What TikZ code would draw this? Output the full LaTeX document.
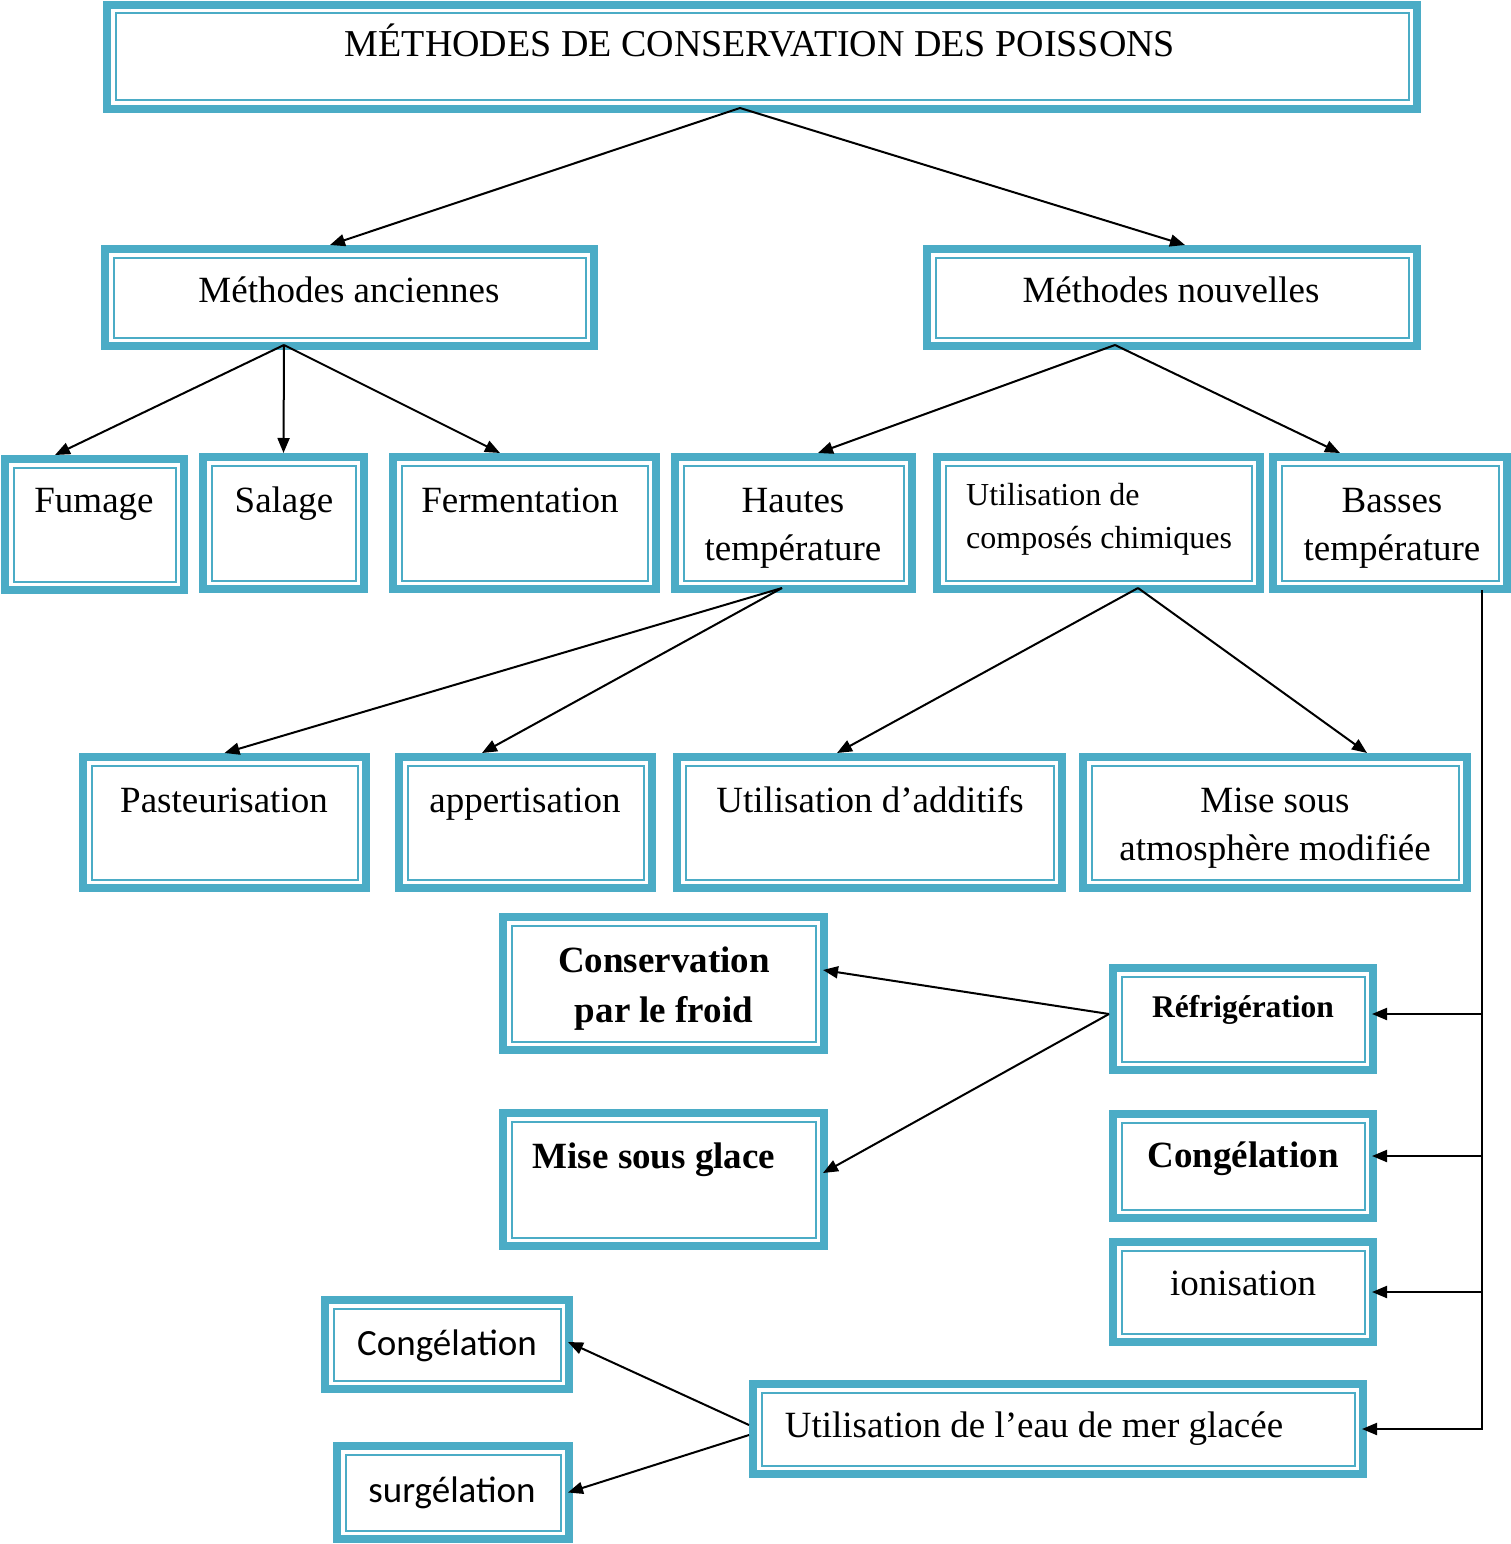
\documentclass[tikz,border=0pt]{standalone}
\usepackage{fontspec}
\setmainfont{Liberation Serif}
\newfontfamily\calib{Carlito}
\usetikzlibrary{arrows.meta}
\definecolor{boxblue}{HTML}{4BACC6}
\newcommand\mybox[5]{%
  \node[box, minimum width={#4-#2-8}, minimum height={#5-#3-8}] (#1) at ({(#2+#4)/2},{(#3+#5)/2}) {};
  \draw[innerline] ([shift={(12.5,12.5)}]#1.north west) rectangle ([shift={(-12.5,-12.5)}]#1.south east);}
\tikzset{
  box/.style={draw=boxblue, line width=8pt, inner sep=0pt, rectangle},
  innerline/.style={draw=boxblue, line width=2pt},
  txt/.style={anchor=base, inner sep=0pt, align=center, font=\fontsize{37}{48}\selectfont},
  arr/.style={line width=2pt, -{Triangle[length=15pt,width=12pt]}}
}
\begin{document}
\begin{tikzpicture}[x=1pt,y=-1pt]
\useasboundingbox (0,0) rectangle (1511,1544);
% boxes
\mybox{title}{103}{1}{1421}{113}
\mybox{anc}{101}{245}{598}{350}
\mybox{nouv}{923}{245}{1421}{350}
\mybox{fum}{1}{455}{188}{594}
\mybox{sal}{199}{453}{368}{593}
\mybox{fer}{389}{453}{660}{593}
\mybox{haut}{671}{453}{916}{593}
\mybox{chim}{933}{453}{1264}{593}
\mybox{bas}{1269}{453}{1511}{593}
\mybox{past}{79}{753}{370}{892}
\mybox{app}{395}{753}{656}{892}
\mybox{add}{673}{753}{1066}{892}
\mybox{atm}{1079}{753}{1471}{892}
\mybox{cpf}{499}{913}{828}{1054}
\mybox{refr}{1109}{964}{1377}{1074}
\mybox{msg}{499}{1109}{828}{1250}
\mybox{cong}{1109}{1110}{1377}{1222}
\mybox{ion}{1109}{1238}{1377}{1346}
\mybox{congb}{321}{1296}{573}{1393}
\mybox{surg}{333}{1442}{573}{1543}
\mybox{eau}{749}{1380}{1367}{1478}
% texts
\node[txt, font=\fontsize{38}{48}\selectfont] (title-t) at (760,57) {MÉTHODES DE CONSERVATION DES POISSONS};
\node[txt] (anc-t) at (349,302) {Méthodes anciennes};
\node[txt] (nouv-t) at (1171,302) {Méthodes nouvelles};
\node[txt] (fum-t) at (94,512) {Fumage};
\node[txt] (sal-t) at (284,512) {Salage};
\node[txt] (fer-t) at (520,512) {Fermentation};
\node[txt] (haut-t) at (793,560) {Hautes\\température};
\node[txt, anchor=base west, align=left, font=\fontsize{32}{43}\selectfont] (chim-t) at (966,548) {Utilisation de\\composés chimiques};
\node[txt] (bas-t) at (1392,560) {Basses\\température};
\node[txt] (past-t) at (224,812) {Pasteurisation};
\node[txt] (app-t) at (525,812) {appertisation};
\node[txt] (add-t) at (870,812) {Utilisation d’additifs};
\node[txt] (atm-t) at (1275,860) {Mise sous\\atmosphère modifiée};
\node[txt, font=\fontsize{37}{50}\selectfont\bfseries] (cpf-t) at (664,1022) {Conservation\\par le froid};
\node[txt, font=\fontsize{31.5}{40}\selectfont\bfseries] (refr-t) at (1243,1017) {Réfrigération};
\node[txt, font=\fontsize{37}{48}\selectfont\bfseries] (msg-t) at (654,1168) {Mise sous glace};
\node[txt, font=\fontsize{37}{48}\selectfont\bfseries] (cong-t) at (1243,1167) {Congélation};
\node[txt] (ion-t) at (1243,1295) {ionisation};
\node[txt, font=\fontsize{37}{48}\calib] (congb-t) at (447,1355) {Congélation};
\node[txt, font=\fontsize{37}{48}\calib] (surg-t) at (452,1502) {surgélation};
\node[txt] (eau-t) at (1034,1437) {Utilisation de l’eau de mer glacée};
% connectors
\draw[arr] ([shift={(-22,-5)}]title.south) -- ([xshift=-19.5]anc.north);
\draw[arr] ([shift={(-22,-5)}]title.south) -- ([xshift=13]nouv.north);
\draw[arr] ([shift={(-65.5,-5)}]anc.south) -- ([xshift=-39.5]fum.north);
\draw[arr] ([shift={(-65.5,-5)}]anc.south) -- (sal.north);
\draw[arr] ([shift={(-65.5,-5)}]anc.south) -- ([xshift=-24.5]fer.north);
\draw[arr] ([shift={(-57,-5)}]nouv.south) -- ([xshift=24.5]haut.north);
\draw[arr] ([shift={(-57,-5)}]nouv.south) -- ([xshift=-50]bas.north);
\draw[arr] ([shift={(-11.5,-5)}]haut.south) -- (past.north);
\draw[arr] ([shift={(-11.5,-5)}]haut.south) -- ([xshift=-43.5]app.north);
\draw[arr] ([shift={(39.5,-5)}]chim.south) -- ([xshift=-32.5]add.north);
\draw[arr] ([shift={(39.5,-5)}]chim.south) -- ([xshift=92]atm.north);
\coordinate (bv) at ([shift={(92,-3)}]bas.south);
\draw[arr] (bv) |- ([xshift=-5]eau.east);
\draw[arr] (bv |- refr.east) ++(0,-5) -- ([shift={(-5,-5)}]refr.east);
\draw[arr] (bv |- cong.east) ++(0,-10) -- ([shift={(-5,-10)}]cong.east);
\draw[arr] (bv |- ion.east) -- ([xshift=-5]ion.east);
\draw[arr] ([shift={(0,-5)}]refr.west) -- ([shift={(-5,-13.5)}]cpf.east);
\draw[arr] ([shift={(0,-5)}]refr.west) -- ([shift={(-5,-6.5)}]msg.east);
\draw[arr] ([shift={(0,-4)}]eau.west) -- ([shift={(-5,-2.5)}]congb.east);
\draw[arr] ([shift={(0,6)}]eau.west) -- ([xshift=-5]surg.east);
\end{tikzpicture}
\end{document}
